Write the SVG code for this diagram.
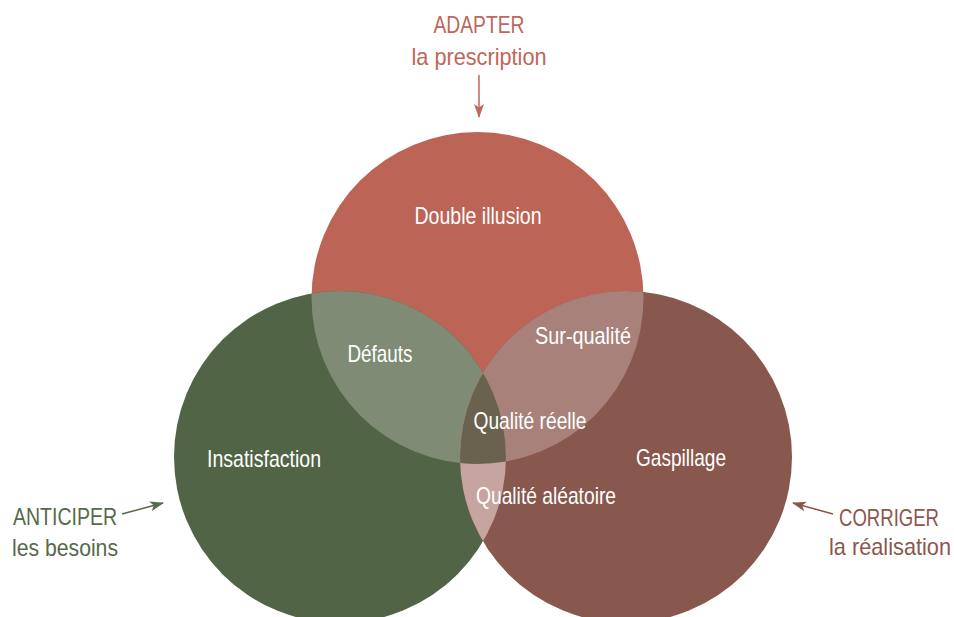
<svg xmlns="http://www.w3.org/2000/svg" width="954" height="617" viewBox="0 0 954 617">
<style>
.lbl{font-family:"Liberation Sans",Arial,sans-serif;font-size:24px;text-anchor:middle}
.xs{font-size:20px}
.in{fill:#ffffff}
.red{fill:#c0665a}
.grn{fill:#56694a}
.brn{fill:#8b564c}
</style>
<defs>
<clipPath id="cT"><circle cx="477.5" cy="298" r="166"/></clipPath>
<clipPath id="cL"><circle cx="340" cy="457" r="166"/></clipPath>
<clipPath id="cR"><circle cx="626" cy="457" r="166"/></clipPath>
<marker id="aR" markerWidth="14" markerHeight="10" refX="13" refY="5" orient="auto" markerUnits="userSpaceOnUse"><path d="M0,0 L14,5 L0,10 L3.5,5 z" fill="#c0665a"/></marker>
<marker id="aG" markerWidth="14" markerHeight="10" refX="13" refY="5" orient="auto" markerUnits="userSpaceOnUse"><path d="M0,0 L14,5 L0,10 L3.5,5 z" fill="#56694a"/></marker>
<marker id="aB" markerWidth="14" markerHeight="10" refX="13" refY="5" orient="auto" markerUnits="userSpaceOnUse"><path d="M0,0 L14,5 L0,10 L3.5,5 z" fill="#8b564c"/></marker>
</defs>
<g id="circle-adapter"><circle cx="477.5" cy="298" r="166" fill="#bc6456"/></g>
<g id="circle-anticiper"><circle cx="340" cy="457" r="166" fill="#516445"/></g>
<g id="circle-corriger"><circle cx="626" cy="457" r="166" fill="#88574d"/></g>
<g id="defauts"><circle cx="477.5" cy="298" r="166" fill="#7f8b74" clip-path="url(#cL)"/></g>
<g id="sur-qualite"><circle cx="477.5" cy="298" r="166" fill="#a7817a" clip-path="url(#cR)"/></g>
<g id="qualite-aleatoire"><circle cx="340" cy="457" r="166" fill="#c6a5a1" clip-path="url(#cR)"/></g>
<g id="qualite-reelle"><g clip-path="url(#cL)"><circle cx="477.5" cy="298" r="166" fill="#6b614f" clip-path="url(#cR)"/></g></g>
<g id="labels-inside">
<text class="lbl in" x="478" y="224" textLength="127" lengthAdjust="spacingAndGlyphs">Double illusion</text>
<text class="lbl in" x="380" y="362" textLength="65" lengthAdjust="spacingAndGlyphs">Défauts</text>
<text class="lbl in" x="583" y="344" textLength="96" lengthAdjust="spacingAndGlyphs">Sur-qualité</text>
<text class="lbl in" x="530" y="429" textLength="113" lengthAdjust="spacingAndGlyphs">Qualité réelle</text>
<text class="lbl in" x="546" y="504" textLength="140" lengthAdjust="spacingAndGlyphs">Qualité aléatoire</text>
<text class="lbl in" x="264" y="467" textLength="114" lengthAdjust="spacingAndGlyphs">Insatisfaction</text>
<text class="lbl in" x="681" y="466" textLength="90" lengthAdjust="spacingAndGlyphs">Gaspillage</text>
</g>
<g id="adapter"><text class="lbl red" x="479" y="33" textLength="91" lengthAdjust="spacingAndGlyphs">ADAPTER</text><text class="lbl red" x="479" y="65" textLength="135" lengthAdjust="spacingAndGlyphs">la prescription</text></g>
<g id="anticiper"><text class="lbl grn" x="65" y="525" textLength="104" lengthAdjust="spacingAndGlyphs">ANTICIPER</text><text class="lbl grn" x="65" y="556" textLength="106" lengthAdjust="spacingAndGlyphs">les besoins</text></g>
<g id="corriger"><text class="lbl xs brn" transform="translate(889,526) scale(1,1.2)" x="0" y="0" textLength="100" lengthAdjust="spacingAndGlyphs">CORRIGER</text><text class="lbl xs brn" transform="translate(890,555) scale(1,1.2)" x="0" y="0" textLength="122" lengthAdjust="spacingAndGlyphs">la réalisation</text></g>
<g id="connectors">
<line x1="479" y1="75" x2="479" y2="117" stroke="#c0665a" stroke-width="1.5" marker-end="url(#aR)"/>
<line x1="122" y1="514" x2="163" y2="503" stroke="#56694a" stroke-width="1.5" marker-end="url(#aG)"/>
<line x1="833" y1="514" x2="793" y2="503" stroke="#8b564c" stroke-width="1.5" marker-end="url(#aB)"/>
</g>
</svg>
